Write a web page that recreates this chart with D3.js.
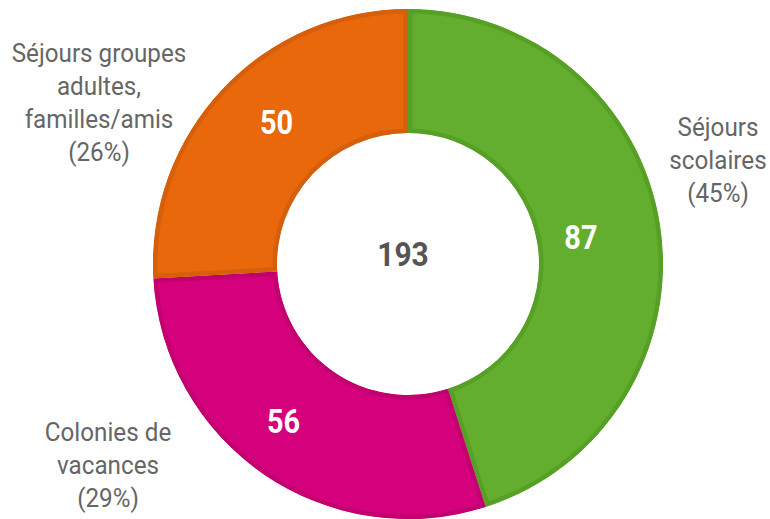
<!DOCTYPE html>
<html>
<head>
<meta charset="utf-8">
<script src="https://cdn.jsdelivr.net/npm/d3@7"></script>
<style>
  body { margin: 0; background: #fff; }
  svg { display: block; font-family: Roboto, sans-serif; }
</style>
</head>
<body>
<div id="main"></div>
<script>
const categories = ["Séjours scolaires", "Colonies de vacances", "Séjours groupes adultes, familles/amis"];
const values = [87, 56, 50];
const percentLabels = ["(45%)", "(29%)", "(26%)"];
const labelLines = [["Séjours", "scolaires"], ["Colonies de", "vacances"], ["Séjours groupes", "adultes,", "familles/amis"]];
const fills = ["#63ae2e", "#d5007b", "#e8680b"];
const strokes = ["#57a026", "#c2006f", "#d55f0b"];

const w = 770, h = 519;
const cx = 408, cy = 264;
const outerR = 255, innerR = 131;
// value label placement inside each slice (radius, angle shift in degrees)
const valueRadius = [175, 200, 194];
const valueShift = [0, 4, 4];

const svg = d3.select("#main").append("svg").attr("width", w).attr("height", h);
const defs = svg.append("defs");
const g = svg.append("g").attr("transform", "translate(" + cx + "," + cy + ")");

const pie = d3.pie().sort(null).value(d => d);
const arcs = pie(values);
const arc = d3.arc().innerRadius(innerR).outerRadius(outerR);

// slices with an inner border (stroke clipped to the slice)
arcs.forEach(function(a, i) {
  defs.append("clipPath").attr("id", "clip" + i)
    .append("path").attr("d", arc(a));
  g.append("path")
    .attr("d", arc(a))
    .attr("fill", fills[i])
    .attr("stroke", strokes[i])
    .attr("stroke-width", 9)
    .attr("clip-path", "url(#clip" + i + ")");
});

// values inside the slices
g.selectAll("text.val")
  .data(arcs)
  .enter()
  .append("text")
  .attr("class", "val")
  .attr("transform", function(d, i) {
    const ang = (d.startAngle + d.endAngle) / 2 + valueShift[i] * Math.PI / 180;
    const r = valueRadius[i];
    return "translate(" + (r * Math.sin(ang)) + "," + (-r * Math.cos(ang)) + ") scale(0.85,1)";
  })
  .attr("text-anchor", "middle")
  .attr("dy", "0.36em")
  .attr("fill", "#fff")
  .attr("font-weight", "bold")
  .attr("font-size", 34)
  .text(d => d.data);

// total in the middle
g.append("text")
  .attr("text-anchor", "middle")
  .attr("transform", "translate(-5,-10) scale(0.88,1)")
  .attr("dy", "0.36em")
  .attr("fill", "#555")
  .attr("font-weight", "bold")
  .attr("font-size", 34)
  .text(d3.sum(values));

// outside labels
const labelPos = [[718, 127], [108, 432], [99, 53]];
labelLines.forEach(function(lines, i) {
  const all = lines.concat([percentLabels[i]]);
  const t = svg.append("text")
    .attr("text-anchor", "middle")
    .attr("fill", "#666")
    .attr("font-size", 25)
    .attr("transform", "translate(" + labelPos[i][0] + "," + labelPos[i][1] + ") scale(0.97,1)");
  all.forEach(function(s, j) {
    t.append("tspan").attr("x", 0).attr("y", j * 33).attr("dy", "0.36em").text(s);
  });
});
</script>
</body>
</html>
